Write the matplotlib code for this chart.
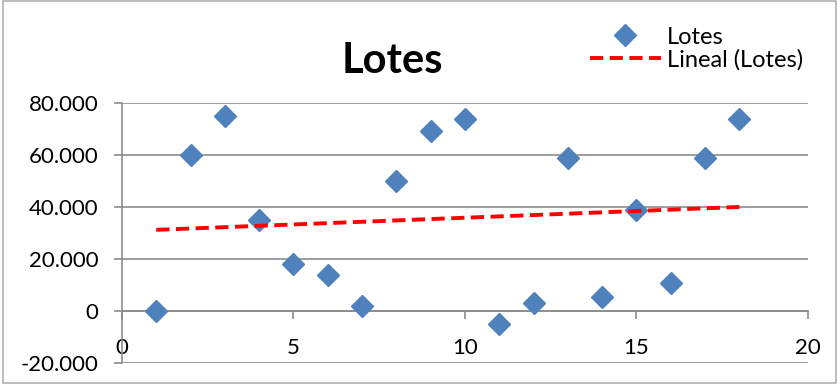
import matplotlib.pyplot as plt
import numpy as np
from matplotlib.ticker import FuncFormatter
from matplotlib.patches import Rectangle

plt.rcParams['font.family'] = ['Lato', 'DejaVu Sans']

# data
x = [1, 2, 3, 4, 5, 6, 7, 8, 9, 10, 11, 12, 13, 14, 15, 16, 17, 18]
lotes = [0, 60000, 75000, 35000, 18000, 14000, 2000, 50000, 69500,
         74000, -5000, 3000, 59000, 5500, 39000, 11000, 59000, 74000]
y_ticks = [-20000, 0, 20000, 40000, 60000, 80000]
x_ticks = [0, 5, 10, 15, 20]

blue = '#4F81BD'
grid_col = '#8c8c8c'

fig = plt.figure(figsize=(8.4, 3.84), dpi=100)
ax = fig.add_axes([0.1452, 0.054, 0.8167, 0.677])

# linear trend line (Excel "Lineal")
xa = np.array(x, dtype=float)
slope, icept = np.polyfit(xa, np.array(lotes, dtype=float), 1)
xt = np.array([x[0], x[-1]])

ax.plot(x, lotes, linestyle='none', marker='D', ms=11, color=blue,
        markeredgecolor=blue, label='Lotes', zorder=3)
ax.plot(xt, slope * xt + icept, color='#ff0000', lw=2.8, ls=(0, (3.4, 1.66)),
        label='Lineal (Lotes)', zorder=4)

ax.set_xlim(0, 20)
ax.set_ylim(-20000, 80000)
ax.set_xticks(x_ticks)
ax.set_yticks(y_ticks)
ax.yaxis.set_major_formatter(FuncFormatter(lambda v, p: f'{int(v):,}'.replace(',', '.')))
ax.grid(axis='y', color=grid_col, lw=1.2)
ax.set_axisbelow(True)

for s in ['top', 'right']:
    ax.spines[s].set_visible(False)
ax.spines['bottom'].set_position(('data', 0))
ax.spines['bottom'].set_color(grid_col)
ax.spines['left'].set_color(grid_col)
ax.spines['bottom'].set_linewidth(1.2)
ax.spines['left'].set_linewidth(1.2)
ax.tick_params(axis='both', colors=grid_col, labelcolor='black', labelsize=16,
               length=6, width=1.2)
ax.tick_params(axis='y', pad=11)
ax.tick_params(axis='x', pad=13)

fig.text(0.467, 0.84, 'Lotes', fontsize=30, fontweight='bold', ha='center', va='center')

leg = fig.legend(loc='upper right', bbox_to_anchor=(0.967, 0.955), frameon=False,
                 fontsize=17, handlelength=3.0, handletextpad=0.25, labelspacing=0.05,
                 borderaxespad=0)

fig.patches.append(Rectangle((0.003, 0.003), 0.992, 0.994, transform=fig.transFigure,
                             fill=False, edgecolor='#b0b0b0', lw=1.2))

fig.savefig('out.png', dpi=100)
